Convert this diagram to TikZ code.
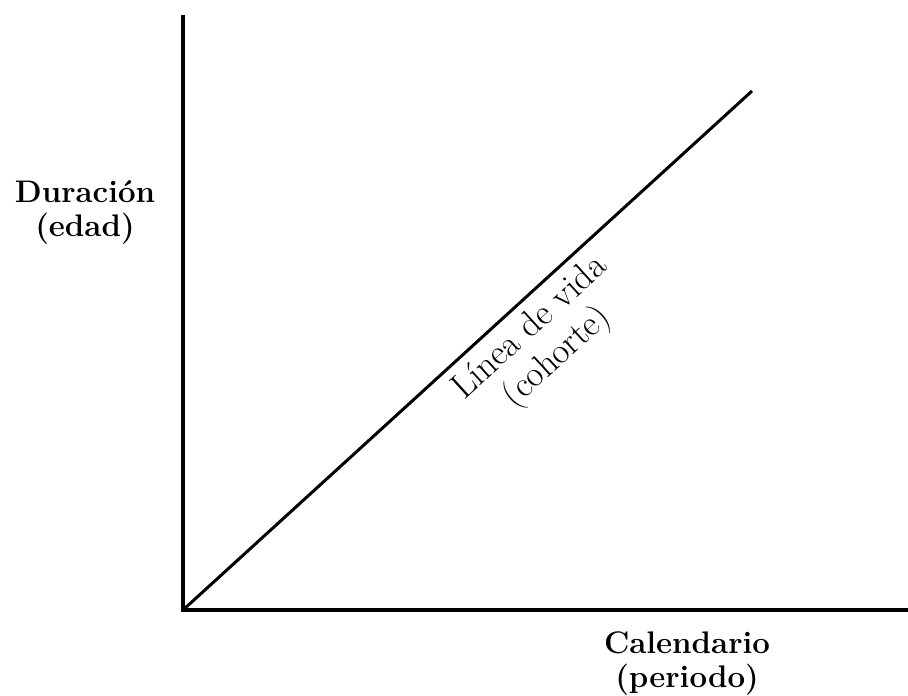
\documentclass[tikz,border=0pt]{standalone}
\usepackage{fontspec}
\usepackage{tikz}
\tikzset{
  eje/.style    = {line width=1.6pt},
  vida/.style   = {line width=1.5pt},
  rotulo/.style = {font=\fontsize{15.6}{17}\selectfont\bfseries, align=center, inner sep=0},
  curso/.style  = {font=\fontsize{18}{20}\selectfont, align=center, inner sep=4pt}
}
\begin{document}
\begin{tikzpicture}[x=0.5pt, y=-0.5pt]
  \useasboundingbox (0,0) rectangle (908,695);
  \coordinate (O) at (183,610);
  \coordinate (T) at (183,15);
  \coordinate (X) at (908,610);
  \coordinate (F) at (752,91);
  \draw[eje] (T) -- (O) -- (X);
  \draw[vida] (O) -- (F) node[curso, pos=0.58, sloped, anchor=north] (lv) {Línea de vida\\(cohorte)};
  \node[rotulo] (dur) at (85,212) {Duración\\(edad)};
  \node[rotulo] (cal) at (687,664) {Calendario\\(periodo)};
\end{tikzpicture}
\end{document}
